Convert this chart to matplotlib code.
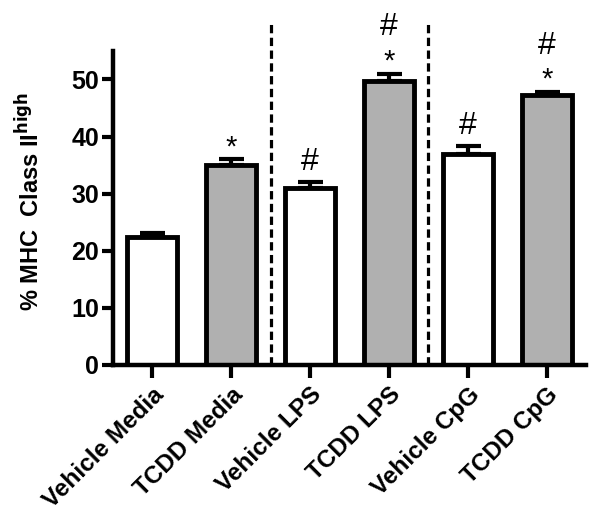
import matplotlib
matplotlib.use('Agg')
import matplotlib.pyplot as plt

# data
groups = ['Vehicle Media', 'TCDD Media', 'Vehicle LPS', 'TCDD LPS', 'Vehicle CpG', 'TCDD CpG']
means = [22.4, 35.0, 30.9, 49.7, 36.9, 47.2]
sems = [0.7, 1.0, 1.1, 1.3, 1.5, 0.6]
fills = ['white', '#b0b0b0', 'white', '#b0b0b0', 'white', '#b0b0b0']
vs_vehicle = [False, True, False, True, False, True]   # '*'
vs_media = [False, False, True, True, True, True]      # '#'
dividers = [1.5, 3.5]

plt.rcParams['font.family'] = ['Liberation Sans', 'DejaVu Sans']
plt.rcParams['font.weight'] = 'bold'

fig = plt.figure(figsize=(6, 5.14), dpi=100)
ax = fig.add_axes([0.188, 0.290, 0.789, 0.611])

x = list(range(len(groups)))
ax.bar(x, means, width=0.64, color=fills, edgecolor='black', linewidth=3.5, zorder=2)
ax.errorbar(x, means, yerr=[[0] * len(sems), sems], fmt='none', ecolor='black',
            elinewidth=3, capsize=9, capthick=3, zorder=1)

# significance marks: '*' just above the error bar, '#' above that
for xi, m, s, star, hsh in zip(x, means, sems, vs_vehicle, vs_media):
    top = m + s + 3.5
    if star:
        ax.text(xi, top - 1.4, '*', ha='center', va='center', fontsize=21, fontweight='normal')
        top += 4.6
    if hsh:
        ax.text(xi, top, '#', ha='center', va='center', fontsize=23, fontweight='normal')

for d in dividers:
    ax.plot([d, d], [0, 60.3], color='black', lw=2.3, ls=(0, (2.6, 1.4)), clip_on=False, zorder=3)

ax.set_xlim(-0.5, 5.5)
ax.set_ylim(0, 55)
ax.set_yticks([0, 10, 20, 30, 40, 50])
ax.set_xticks(x)
ax.set_xticklabels(groups, rotation=45, ha='right', rotation_mode='anchor',
                   fontsize=17.5, fontweight='bold')
ax.tick_params(axis='y', labelsize=18, width=3, length=8, direction='out', pad=2)
ax.tick_params(axis='x', width=3, length=9, direction='out', pad=4)
for lbl in ax.get_yticklabels():
    lbl.set_fontweight('bold')

ax.spines['top'].set_visible(False)
ax.spines['right'].set_visible(False)
ax.spines['left'].set_linewidth(3.2)
ax.spines['bottom'].set_linewidth(3.2)

ax.set_ylabel('% MHC  Class II$^{\\mathbf{high}}$', fontsize=17, fontweight='bold')
ax.yaxis.set_label_coords(-0.145, 0.52)

fig.savefig('out.png', dpi=100)
